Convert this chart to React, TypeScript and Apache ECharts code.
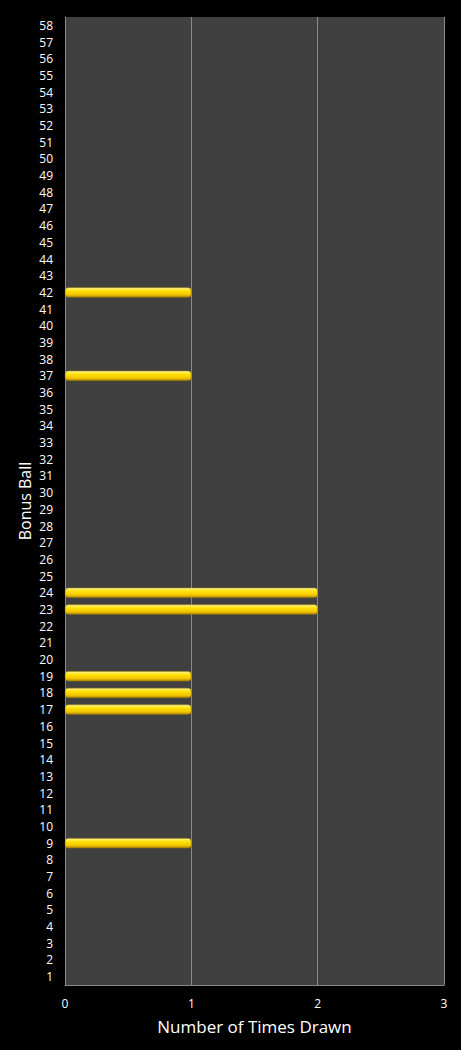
import { useEffect, useRef } from "react";
import * as echarts from "echarts";

const balls = Array.from({ length: 58 }, (_, i) => String(i + 1));
const drawnBalls = ["9", "17", "18", "19", "23", "24", "37", "42"];
const drawnCounts = [1, 1, 1, 1, 2, 2, 1, 1];

export default function App() {
  const chartRef = useRef<HTMLDivElement>(null);

  useEffect(() => {
    if (!chartRef.current) return;
    document.body.style.margin = "0";
    const chart = echarts.init(chartRef.current, undefined, { renderer: "svg" });

    const font = "'Open Sans', 'DejaVu Sans', sans-serif";
    const lineColor = "#8a8a8a";

    // balls never drawn get no bar at all
    const values = balls.map((b) => {
      const i = drawnBalls.indexOf(b);
      return i >= 0 ? drawnCounts[i] : "-";
    });

    chart.setOption({
      animation: false,
      backgroundColor: "#000000",
      grid: { left: 65, right: 17, top: 17, bottom: 65, backgroundColor: "#404040", show: true, borderWidth: 0 },
      xAxis: {
        type: "value",
        min: 0,
        max: 3,
        interval: 1,
        name: "Number of Times Drawn",
        nameLocation: "middle",
        nameGap: 33,
        nameTextStyle: { color: "#ffffff", fontSize: 17, fontFamily: font },
        axisLine: { show: true, lineStyle: { color: lineColor } },
        axisTick: { show: false },
        axisLabel: { color: "#ffffff", fontSize: 12, fontFamily: font, margin: 12 },
        splitLine: { show: true, lineStyle: { color: lineColor, width: 1 } },
      },
      yAxis: {
        type: "category",
        data: balls,
        name: "Bonus Ball",
        nameLocation: "middle",
        nameGap: 32,
        nameMoveOverlap: false,
        nameTextStyle: { color: "#ffffff", fontSize: 16, fontFamily: font },
        axisLine: { show: true, lineStyle: { color: lineColor } },
        axisTick: { show: false },
        axisLabel: { color: "#ffffff", fontSize: 12, fontFamily: font, margin: 12, interval: 0 },
        splitLine: { show: false },
      },
      series: [
        {
          type: "bar",
          data: values,
          barWidth: 10,
          itemStyle: {
            borderRadius: 3,
            borderColor: "#b08c00",
            borderWidth: 0.5,
            color: new echarts.graphic.LinearGradient(0, 0, 0, 1, [
              { offset: 0, color: "#fff59a" },
              { offset: 0.35, color: "#ffe100" },
              { offset: 0.75, color: "#f2c400" },
              { offset: 1, color: "#a88400" },
            ]),
          },
        },
      ],
    });

    return () => chart.dispose();
  }, []);

  return <div ref={chartRef} style={{ width: 461, height: 1050 }} />;
}
